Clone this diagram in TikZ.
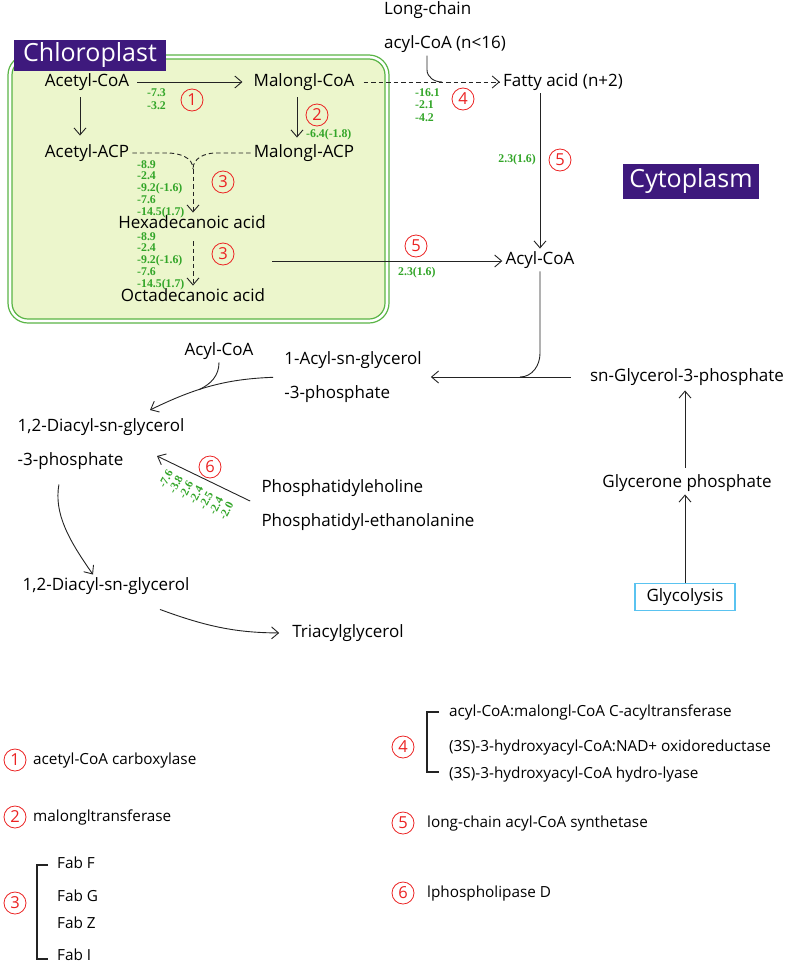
\documentclass[tikz,border=0pt]{standalone}
\usepackage{fontspec}
\setmainfont{Open Sans}
\newfontfamily\grnfont{Liberation Serif}
\usetikzlibrary{arrows.meta}
\definecolor{boxgreen}{RGB}{90,180,70}
\definecolor{boxfill}{RGB}{236,246,204}
\definecolor{labpurple}{RGB}{62,25,125}
\definecolor{numgreen}{RGB}{50,165,40}
\definecolor{circred}{RGB}{235,35,35}
\definecolor{glycyan}{RGB}{90,195,240}
\definecolor{linegray}{RGB}{35,35,35}

\begin{document}
\begin{tikzpicture}[x=1pt, y=1pt,
	lbl/.style={font=\fontsize{17}{20}\selectfont, inner sep=3pt, text height=12.5pt, text depth=4pt},
	two/.style={font=\fontsize{17}{34}\selectfont, inner sep=3pt, align=left},
	leg/.style={font=\fontsize{15.3}{18}\selectfont, inner sep=0pt, anchor=west, text height=11pt, text depth=3pt},
	num/.style={circle, draw=circred, text=circred, line width=0.8pt, inner sep=0pt, minimum size=22pt, font=\fontsize{16.5}{16.5}\selectfont},
	grn/.style={text=numgreen, align=left, inner sep=0pt, font=\grnfont\bfseries\fontsize{11.8}{11.8}\selectfont},
	arr/.style={draw=linegray, line width=0.9pt, -{Straight Barb[length=7pt,width=12pt]}},
	ln/.style={draw=linegray, line width=0.9pt},
	dsh/.style={dash pattern=on 4.5pt off 3pt},
	tagbox/.style={fill=labpurple, text=white, inner sep=0pt, font=\fontsize{25}{25}\selectfont}]
	\useasboundingbox (0,0) rectangle (787,-964);

	\draw[boxgreen, line width=1.2pt, rounded corners=20pt] (8,-55) rectangle (389,-323);
	\draw[boxgreen, line width=1.2pt, fill=boxfill, rounded corners=16pt] (12,-59) rectangle (385,-319);
	\node[tagbox, minimum width=152pt, minimum height=31pt] (chl) at (90,-55) {Chloroplast};
	\node[tagbox, minimum width=136pt, minimum height=35pt] (cyt) at (691,-181) {Cytoplasm};

	\node[lbl] (acoa) at (87,-82) {Acetyl-CoA};
	\node[lbl] (mcoa) at (304,-82) {Malongl-CoA};
	\node[lbl] (aacp) at (87,-153) {Acetyl-ACP};
	\node[lbl] (macp) at (304,-153) {Malongl-ACP};
	\node[lbl] (hexa) at (192,-224) {Hexadecanoic acid};
	\node[lbl] (octa) at (193,-297) {Octadecanoic acid};
	\node[two] (lcoa) at (445,-27) {Long-chain\\acyl-CoA (n<16)};
	\node[lbl] (fatty) at (563,-82) {Fatty acid (n+2)};
	\node[lbl] (acoar) at (540,-260) {Acyl-CoA};
	\node[two] (acylp) at (353,-377) {1-Acyl-sn-glycerol\\-3-phosphate};
	\node[lbl] (acoal) at (219,-351) {Acyl-CoA};
	\node[lbl] (g3p) at (687,-377) {sn-Glycerol-3-phosphate};
	\node[lbl] (gnp) at (687,-483) {Glycerone phosphate};
	\node[lbl, draw=glycyan, line width=1.2pt, minimum width=100pt, minimum height=27pt] (glyc) at (685,-597) {Glycolysis};
	\node[two] (dagp) at (101,-444) {1,2-Diacyl-sn-glycerol\\-3-phosphate};
	\node[two] (phos) at (368,-505) {Phosphatidyleholine\\Phosphatidyl-ethanolanine};
	\node[lbl] (dag) at (106,-586) {1,2-Diacyl-sn-glycerol};
	\node[lbl] (tag) at (348,-633) {Triacylglycerol};

	\node[num] (e1) at (192,-100) {1};
	\node[num] (e2) at (317,-115) {2};
	\node[num] (e3a) at (223,-182) {3};
	\node[num] (e3b) at (223,-254) {3};
	\node[num] (e4) at (463,-99) {4};
	\node[num] (e5a) at (560,-160) {5};
	\node[num] (e5b) at (416,-246) {5};
	\node[num] (e6) at (210,-467) {6};

	\node[grn, anchor=north west] (g1) at (147,-88) {-7.3\\[2pt]-3.2};
	\node[grn, anchor=west] (g2) at (306,-135) {-6.4(-1.8)};
	\node[grn, anchor=north west] (g3) at (137,-160) {-8.9\\-2.4\\-9.2(-1.6)\\-7.6\\-14.5(1.7)};
	\node[grn, anchor=north west] (g4) at (137,-232) {-8.9\\-2.4\\-9.2(-1.6)\\-7.6\\-14.5(1.7)};
	\node[grn, anchor=north west] (g5) at (415,-88) {-16.1\\[1pt]-2.1\\[1pt]-4.2};
	\node[grn, anchor=east] (g6) at (536,-160) {2.3(1.6)};
	\node[grn, anchor=west] (g7) at (398,-273) {2.3(1.6)};
	\node[grn, rotate=62, font=\grnfont\bfseries\fontsize{11.5}{11.4}\selectfont] (g8) at (196,-495) {-7.6\\-3.8\\-2.6\\-2.4\\-2.5\\-2.4\\-2.0};

	\draw[arr, shorten <=5pt, shorten >=8pt] (acoa) -- (mcoa);
	\draw[arr, shorten <=4pt, shorten >=6pt] ([xshift=-7pt]acoa.south) -- ([xshift=-7pt]aacp.north);
	\draw[arr, shorten <=4pt, shorten >=4pt] ([xshift=-7pt]mcoa.south) -- ([xshift=-7pt]macp.north);
	\coordinate (m3) at (193,-169);
	\draw[ln, dsh] (aacp.east) -- ++(35,0) to[out=0,in=90] (m3);
	\draw[ln, dsh] (macp.west) -- ++(-35,0) to[out=180,in=90] (m3);
	\draw[arr, dsh] (m3) -- (m3 |- hexa.north);
	\draw[arr, dsh, shorten <=6pt] (hexa.south -| m3) -- (octa.north -| m3);
	\coordinate (c16) at (272,-261);
	\draw[arr] (c16) -- (c16 -| acoar.west);
	\coordinate (j4) at (442,-82);
	\draw[arr, dsh, shorten <=6pt] (mcoa) -- (fatty);
	\draw[ln] ([xshift=-18pt]lcoa.south) -- ++(0,-14) to[out=-90,in=180] (j4);
	\draw[arr] (acoar.north |- fatty.south) -- (acoar.north);
	\coordinate (jB) at (520,-377);
	\draw[ln] (acoar.south) -- ++(0,-82) to[out=-90,in=0] (jB);
	\draw[arr, shorten <=16pt, shorten >=6pt] (g3p.west) -- (acylp.east);
	\draw[arr, shorten <=4pt, shorten >=2pt] ([xshift=-2pt]gnp.north) -- ([xshift=-2pt]g3p.south);
	\draw[arr] (glyc) -- ([xshift=-2pt]gnp.south);

	\coordinate (t1) at (150,-410);
	\draw[arr, shorten <=8pt] (acylp.west) to[bend right=12] coordinate[pos=0.62] (jA) (t1);
	\draw[ln] (acoal.south) to[out=-90,in=25] (jA);
	\coordinate (t6) at (157,-456);
	\draw[arr, shorten <=9pt] (phos.west) -- (t6);
	\draw[arr, shorten <=12pt] ([xshift=-40pt]dagp.south) to[out=-100,in=125] ([xshift=-13pt]dag.north);
	\draw[arr, shorten >=10pt] ([xshift=54pt,yshift=-12pt]dag.south) to[bend right=10] (tag.west);

	\node[num] (l1) at (15,-760) {1};
	\node[leg] (n1) at (33,-760) {acetyl-CoA carboxylase};
	\node[num] (l2) at (15,-817) {2};
	\node[leg] (n2) at (33,-817) {malongltransferase};
	\node[num] (l3) at (15,-903) {3};
	\node[leg] (fabf) at (57,-864) {Fab F};
	\node[leg] (fabg) at (57,-897) {Fab G};
	\node[leg] (fabz) at (57,-924) {Fab Z};
	\node[leg] (fabi) at (57,-956) {Fab I};
	\draw[ln, line width=1.3pt] (48,-865) -- (37,-865) -- (37,-959) -- (48,-959);

	\node[num] (l4) at (403,-747) {4};
	\node[leg] (n4a) at (449,-712) {acyl-CoA:malongl-CoA C-acyltransferase};
	\node[leg] (n4b) at (449,-747) {(3S)-3-hydroxyacyl-CoA:NAD+ oxidoreductase};
	\node[leg] (n4c) at (449,-774) {(3S)-3-hydroxyacyl-CoA hydro-lyase};
	\draw[ln, line width=1.3pt] (439,-712) -- (427,-712) -- (427,-772) -- (439,-772);
	\node[num] (l5) at (403,-823) {5};
	\node[leg] (n5) at (427,-823) {long-chain acyl-CoA synthetase};
	\node[num] (l6) at (403,-893) {6};
	\node[leg] (n6) at (427,-893) {lphospholipase D};
\end{tikzpicture}
\end{document}
